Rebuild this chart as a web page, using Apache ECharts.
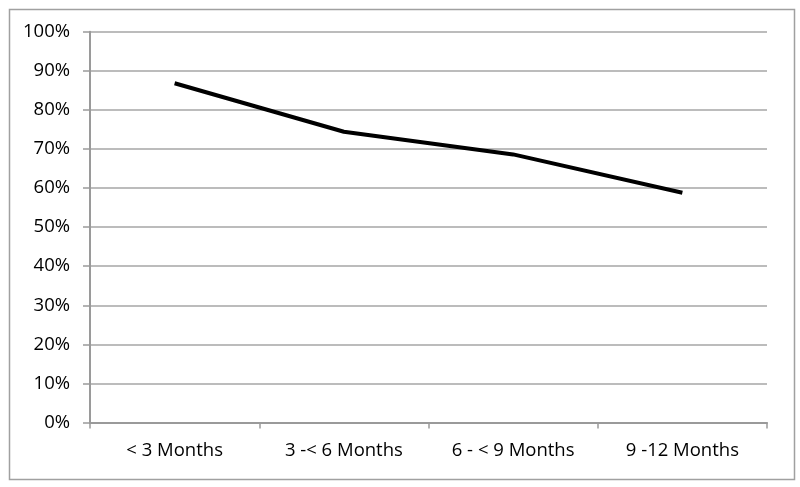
<!DOCTYPE html>
<html><head><meta charset="utf-8">
<script src="https://cdn.jsdelivr.net/npm/echarts@6/dist/echarts.min.js"></script>
<style>html,body{margin:0;padding:0;background:#fff}#c{width:800px;height:487px}</style>
</head><body><div id="c"></div>
<script>
const categories = ['< 3 Months', '3 -< 6 Months', '6 - < 9 Months', '9 -12 Months'];
const values = [86.8, 74.4, 68.6, 58.8];
const yTicks = [0, 10, 20, 30, 40, 50, 60, 70, 80, 90, 100];

const chart = echarts.init(document.getElementById('c'));
chart.setOption({
  animation: false,
  backgroundColor: '#fff',
  graphic: [{
    type: 'rect', left: 7, top: 7,
    shape: { width: 785, height: 470 },
    style: { fill: 'none', stroke: '#a0a0a0', lineWidth: 1.5 }
  }],
  grid: { left: 90, right: 33, top: 31.7, bottom: 64.5 },
  xAxis: {
    type: 'category', data: categories, boundaryGap: true,
    axisLine: { lineStyle: { color: '#9a9a9a', width: 2 } },
    axisTick: { show: true, length: 6, lineStyle: { color: '#9a9a9a', width: 1.5 } },
    axisLabel: { color: '#000', fontFamily: 'Open Sans', fontSize: 18.5, margin: 19 }
  },
  yAxis: {
    type: 'value', min: 0, max: 100, interval: 10,
    axisLine: { show: true, lineStyle: { color: '#9a9a9a', width: 2 } },
    axisTick: { show: true, length: 7, lineStyle: { color: '#9a9a9a', width: 1.5 } },
    splitLine: { lineStyle: { color: '#a6a6a6', width: 1.5 } },
    axisLabel: { color: '#000', fontFamily: 'Open Sans', fontSize: 18.5, margin: 20,
      formatter: v => yTicks.includes(v) ? v + '%' : '' }
  },
  series: [{
    type: 'line', data: values, symbol: 'none',
    lineStyle: { color: '#000', width: 4 }
  }]
});
</script></body></html>
